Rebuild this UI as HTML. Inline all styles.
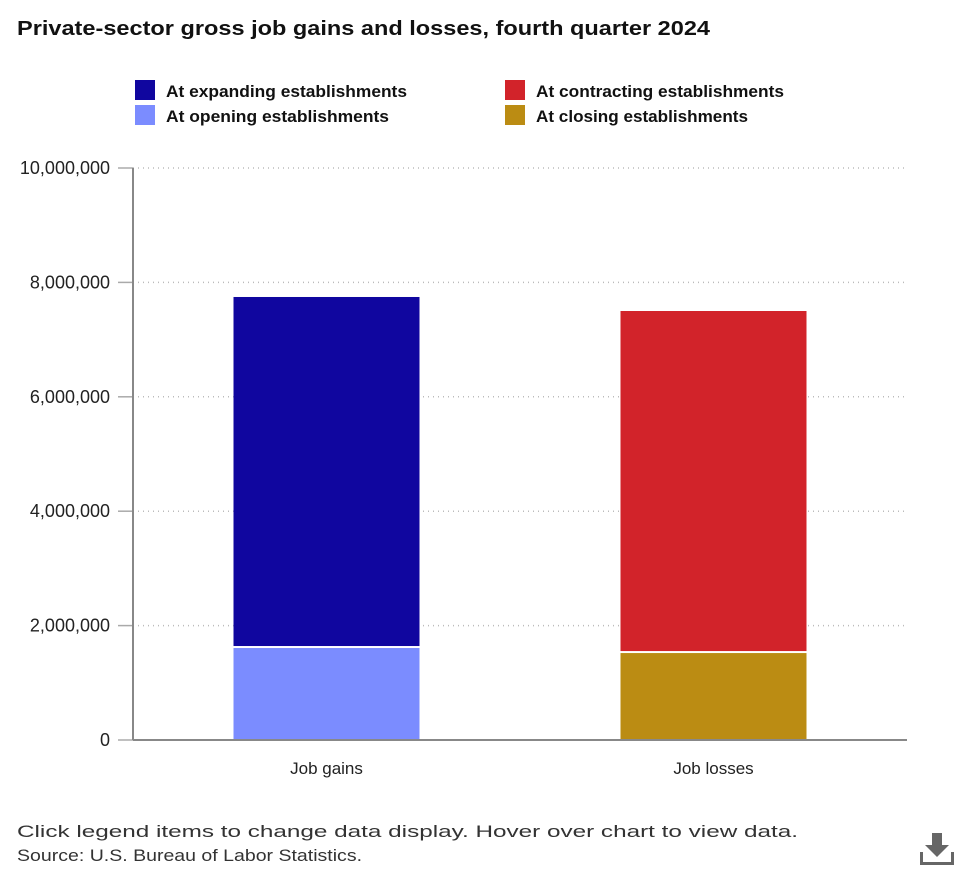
<!DOCTYPE html>
<html><head><meta charset="utf-8"><style>
body{margin:0;background:#fff;font-family:"Liberation Sans",sans-serif;}
svg text{font-family:"Liberation Sans",sans-serif;}
</style></head><body>
<svg width="975" height="874" viewBox="0 0 975 874" xmlns="http://www.w3.org/2000/svg" id="chart">
<text x="17" y="35" font-size="20" font-weight="bold" fill="#111" textLength="693" lengthAdjust="spacingAndGlyphs">Private-sector gross job gains and losses, fourth quarter 2024</text>
<g>
<g><rect x="135" y="80" width="20" height="20" fill="#10069f"/><text x="166" y="97" font-size="17" font-weight="bold" fill="#111" textLength="241" lengthAdjust="spacingAndGlyphs">At expanding establishments</text></g>
<g><rect x="135" y="105" width="20" height="20" fill="#7b8cff"/><text x="166" y="122" font-size="17" font-weight="bold" fill="#111" textLength="223" lengthAdjust="spacingAndGlyphs">At opening establishments</text></g>
<g><rect x="505" y="80" width="20" height="20" fill="#d2232a"/><text x="536" y="97" font-size="17" font-weight="bold" fill="#111" textLength="248" lengthAdjust="spacingAndGlyphs">At contracting establishments</text></g>
<g><rect x="505" y="105" width="20" height="20" fill="#bb8c13"/><text x="536" y="122" font-size="17" font-weight="bold" fill="#111" textLength="212" lengthAdjust="spacingAndGlyphs">At closing establishments</text></g>
</g>
<g id="grid"></g><g id="bars"></g><g id="axes"></g>
<text x="17" y="837" font-size="17" fill="#333" textLength="781" lengthAdjust="spacingAndGlyphs">Click legend items to change data display. Hover over chart to view data.</text>
<text x="17" y="861" font-size="17" fill="#333" textLength="345" lengthAdjust="spacingAndGlyphs">Source: U.S. Bureau of Labor Statistics.</text>
<g fill="#666"><rect x="932" y="833" width="10" height="13"/><polygon points="925,845 949,845 937,857"/><rect x="920" y="862" width="34" height="3"/><rect x="920" y="852" width="3" height="12"/><rect x="951" y="852" width="3" height="12"/></g>
</svg>
<script>
const categories=["Job gains","Job losses"];
const baseValues=[1608000,1520000];
const topValues=[6137000,5980000];
const tickValues=[0,2000000,4000000,6000000,8000000,10000000];
const tickLabels=["0","2,000,000","4,000,000","6,000,000","8,000,000","10,000,000"];
const baseColors=["#7b8cff","#bb8c13"];
const topColors=["#10069f","#d2232a"];
const NS="http://www.w3.org/2000/svg";
const x0=133,x1=907,y0=740,y1=168,maxV=10000000;
const yS=v=>y0-(v/maxV)*(y0-y1);
const band=(x1-x0)/categories.length;
const xC=i=>x0+band*(i+0.5);
const bw=186;
function mk(t,a,p){const e=document.createElementNS(NS,t);for(const k in a)e.setAttribute(k,a[k]);p.appendChild(e);return e;}
const grid=document.getElementById('grid'),bars=document.getElementById('bars'),axes=document.getElementById('axes');
tickValues.forEach((v,i)=>{
 const y=yS(v);
 if(v>0){const g=mk('line',{x1:x0,x2:x1,y1:y,y2:y,stroke:'#bbb','stroke-dasharray':'1,4','stroke-width':1.5},grid);
 
 }
 const t=mk('line',{x1:118,x2:x0,y1:y,y2:y,stroke:'#aaa','stroke-width':1.5},axes);
 
 
 const l=mk('text',{x:110,y:y+6,'text-anchor':'end','font-size':18,fill:'#222'},axes);
 l.textContent=tickLabels[i];
 
 
});
categories.forEach((c,i)=>{
 const x=xC(i)-bw/2;
 const b=mk('rect',{x:x,y:yS(baseValues[i]),width:bw,height:y0-yS(baseValues[i]),fill:baseColors[i]},bars);
 
 
 const tv=baseValues[i]+topValues[i];
 const t=mk('rect',{x:x,y:yS(tv),width:bw,height:yS(baseValues[i])-yS(tv)-2,fill:topColors[i]},bars);
 
 
 const l=mk('text',{x:xC(i),y:774,'text-anchor':'middle','font-size':17,fill:'#222'},axes);
 l.textContent=c;
 
 
});
const ya=mk('line',{x1:x0,x2:x0,y1:y1,y2:y0,stroke:'#888','stroke-width':2},axes);


const xa=mk('line',{x1:x0,x2:x1,y1:y0,y2:y0,stroke:'#888','stroke-width':2},axes);


</script>
</body></html>
